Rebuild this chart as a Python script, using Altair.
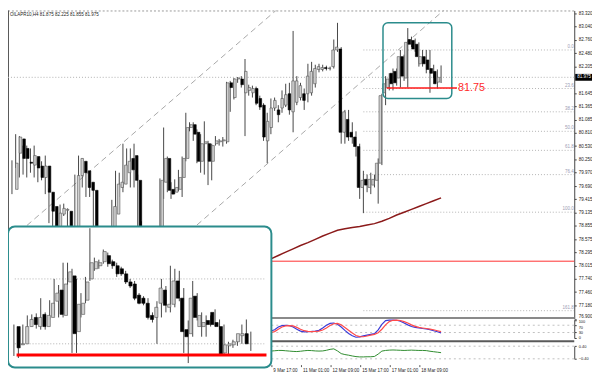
import altair as alt
import pandas as pd

# ---------------- main H4 candles (index 0 = leftmost bar) ----------------
opens = [79.62, 80.38, 80.68, 80.48, 80.19, 80.13, 80.31, 80.11, 79.87, 80.11,
         79.56, 79.26, 78.75, 79.10, 79.18, 79.16, 78.79, 78.65, 79.91, 80.21,
         80.01, 79.77, 79.60, 78.71, 78.79, 78.59, 78.71, 78.55, 79.10, 79.66,
         79.73, 79.97, 80.27, 80.33, 79.81, 78.79, 78.45, 78.59, 78.35, 78.51,
         78.51, 79.77, 80.27, 79.62, 79.56, 79.62, 79.87, 80.27, 80.92, 80.98,
         80.82, 80.21, 80.58, 80.58, 80.21, 80.58, 80.62, 80.64, 80.62, 81.86,
         81.55, 81.94, 81.94, 81.65, 81.70, 81.65, 81.74, 81.53, 81.39, 80.64,
         80.92, 81.33, 81.29, 81.33, 81.39, 81.63, 81.25, 81.45, 81.55, 81.63,
         81.63, 81.65, 81.84, 82.14, 82.14, 82.18, 82.16, 82.20, 82.55, 82.57,
         80.82, 81.09, 80.82, 80.72, 80.52, 79.66, 79.83, 79.66, 79.71, 79.81,
         80.17, 81.65, 81.76, 82.06, 82.10, 81.96, 82.41, 81.96, 82.77, 82.75,
         82.67, 82.26, 82.41, 82.34, 82.16, 82.10, 81.875]
highs = [80.23, 80.78, 80.74, 80.54, 80.54, 80.48, 80.54, 80.27, 80.21, 80.33,
         79.64, 79.36, 79.20, 79.30, 79.32, 79.22, 78.87, 79.93, 80.33, 80.27,
         80.17, 79.81, 79.66, 78.81, 78.81, 78.79, 78.77, 79.40, 80.01, 79.97,
         80.58, 80.48, 80.48, 80.58, 79.93, 78.95, 78.63, 78.67, 78.63, 78.71,
         79.85, 80.92, 80.31, 79.77, 79.83, 80.03, 80.31, 81.23, 81.03, 81.03,
         80.88, 80.78, 81.05, 80.64, 80.58, 80.74, 80.68, 80.72, 81.88, 81.90,
         81.96, 81.98, 82.00, 82.36, 81.82, 81.80, 81.78, 81.59, 81.43, 81.23,
         81.53, 81.55, 81.39, 81.70, 81.84, 81.86, 82.95, 82.00, 81.86, 81.74,
         82.26, 82.30, 82.24, 82.26, 82.24, 82.22, 82.20, 82.77, 83.12, 82.61,
         81.29, 81.29, 81.03, 80.84, 80.58, 80.01, 79.93, 79.97, 79.93, 80.27,
         81.63, 82.00, 82.06, 82.16, 82.16, 82.55, 82.45, 83.01, 82.83, 82.79,
         82.71, 82.55, 82.55, 82.55, 82.24, 82.14, 82.225]
lows = [79.52, 80.07, 79.87, 79.93, 79.87, 79.97, 79.87, 79.77, 79.81, 79.52,
        78.91, 78.71, 78.65, 78.91, 79.06, 78.65, 78.55, 78.59, 79.77, 79.66,
        79.46, 79.46, 78.65, 78.55, 78.45, 78.51, 78.39, 78.45, 78.99, 79.46,
        79.56, 79.81, 79.66, 79.66, 78.71, 78.45, 78.35, 78.24, 78.22, 78.39,
        78.43, 79.42, 79.56, 79.42, 79.52, 79.58, 79.46, 80.21, 80.84, 80.64,
        80.17, 79.97, 79.93, 79.71, 79.81, 80.54, 80.54, 80.52, 80.58, 81.25,
        81.51, 81.86, 81.76, 80.74, 81.59, 81.55, 81.39, 81.29, 80.64, 80.17,
        80.78, 81.27, 81.03, 81.23, 81.35, 81.19, 80.82, 81.39, 81.49, 81.29,
        81.45, 81.59, 81.76, 82.08, 82.10, 82.12, 82.12, 82.16, 82.51, 80.58,
        80.58, 80.64, 80.58, 80.31, 79.42, 79.12, 79.56, 79.52, 79.66, 79.32,
        80.13, 81.39, 81.70, 81.70, 81.80, 81.76, 81.90, 81.76, 82.61, 82.51,
        82.20, 82.20, 82.06, 81.65, 81.96, 81.74, 81.855]
closes = [80.17, 80.72, 80.27, 80.27, 80.17, 80.33, 80.07, 79.87, 80.11, 79.56,
          79.16, 78.85, 79.12, 79.22, 79.20, 78.79, 78.65, 79.91, 80.27, 79.97,
          79.66, 79.60, 78.75, 78.79, 78.59, 78.71, 78.51, 79.26, 79.73, 79.77,
          80.13, 80.21, 80.03, 79.81, 78.79, 78.55, 78.59, 78.35, 78.51, 78.55,
          79.81, 80.27, 79.60, 79.52, 79.66, 79.87, 80.27, 80.92, 80.98, 80.78,
          80.21, 80.58, 80.62, 80.21, 80.54, 80.64, 80.64, 80.66, 81.86, 81.76,
          81.94, 81.96, 81.82, 82.10, 81.76, 81.74, 81.43, 81.35, 80.72, 81.05,
          81.33, 81.49, 81.19, 81.53, 81.61, 81.29, 81.90, 81.90, 81.80, 81.49,
          82.00, 82.10, 82.16, 82.20, 82.18, 82.16, 82.17, 82.55, 82.61, 80.82,
          81.25, 80.72, 80.72, 80.52, 79.66, 79.81, 79.71, 79.83, 79.83, 80.17,
          81.59, 81.84, 81.94, 81.84, 81.86, 82.41, 82.00, 82.71, 82.67, 82.57,
          82.41, 82.41, 82.26, 82.14, 82.06, 81.84, 81.975]

# ---------------- indicators (from bar 70 to the last bar) ----------------
ind_start = 70
stoch_main = [38, 45, 60, 68, 70, 68, 60, 48, 38, 34, 35, 36, 38, 42, 55, 70, 80, 82, 75, 60,
              42, 25, 12, 4, 6, 12, 16, 20, 24, 45, 75, 95, 98, 98, 97, 92, 82, 72, 63, 58,
              55, 52, 50, 46, 40, 34, 28]
stoch_signal = [30, 35, 48, 60, 66, 68, 66, 58, 48, 40, 36, 35, 36, 38, 44, 55, 68, 78, 80, 72,
                58, 42, 27, 14, 8, 7, 11, 16, 20, 29, 48, 72, 90, 97, 98, 96, 90, 82, 72, 64,
                58, 55, 52, 49, 45, 40, 35]
osc_values = [0.09, 0.11, 0.13, 0.13, 0.11, 0.09, 0.07, 0.06, 0.08, 0.11,
              0.13, 0.12, 0.10, 0.09, 0.10, 0.14, 0.20, 0.23, 0.10, -0.07,
              -0.13, -0.17, -0.22, -0.26, -0.28, -0.28, -0.27, -0.27, -0.25, -0.10,
              0.09, 0.13, 0.15, 0.16, 0.15, 0.14, 0.13, 0.14, 0.15, 0.14,
              0.13, 0.13, 0.12, 0.08, 0.05, 0.02, -0.01]
ma_index = list(range(70, 117, 2))
ma_values = [78.16, 78.23, 78.30, 78.37, 78.44, 78.50, 78.57, 78.64, 78.70, 78.76,
             78.79, 78.82, 78.84, 78.87, 78.90, 78.95, 79.01, 79.08, 79.14, 79.20,
             79.26, 79.32, 79.38, 79.44]

# ---------------- drawn objects ----------------
fib_prices = [82.55, 81.74, 81.25, 80.84, 80.44, 79.93, 79.14, 77.07]
fib_labels = ["0.0", "23.6", "38.2", "50.0", "61.8", "76.4", "100.0", "161.8"]
fib_start = 95
chan_upper_k = [0, 73]
chan_upper_p = [78.59, 83.49]
chan_lower_k = [50, 118]
chan_lower_p = [78.87, 83.47]
support_price = 78.11
bid_price = 81.975
zone_price = 81.75
zone_k = [101.3, 120.3]
box_k = [100.3, 118.9]
box_p = [83.12, 81.53]
header = "OILAPR10,H4  81.875 82.225 81.855 81.975"

price_ticks = [83.320, 83.040, 82.760, 82.480, 82.205, 81.645, 81.365, 81.085, 80.810,
               80.530, 80.250, 79.970, 79.690, 79.415, 79.135, 78.855, 78.575, 78.295,
               78.015, 77.740, 77.460, 77.180, 76.900]
stoch_ticks = [0, 30, 70, 100]
osc_ticks = [-0.4, 0.4]
time_idx = [70, 78, 86, 94, 102, 110]
time_txt = ["9 Mar 17:00", "11 Mar 01:00", "12 Mar 09:00", "15 Mar 17:00",
            "17 Mar 01:00", "18 Mar 09:00"]

# ---------------- inset (finer bars of the boxed area) ----------------
inset_open = [82.03, 81.85, 81.86, 82.03, 82.12, 82.03, 82.15, 82.03, 82.12, 82.28,
              82.39, 82.14, 82.47, 82.53, 81.98, 82.15, 82.29, 82.50, 82.60, 82.63,
              82.67, 82.73, 82.67, 82.63, 82.60, 82.55, 82.47, 82.45, 82.34, 82.31,
              82.26, 82.14, 82.12, 82.26, 82.39, 82.22, 82.25, 82.48, 82.31, 82.00,
              81.96, 82.33, 82.03, 82.03, 82.09, 82.17, 82.07, 82.03, 81.77, 81.84,
              81.85, 81.88, 81.94, 81.96]
inset_high = [82.05, 81.88, 82.05, 82.14, 82.15, 82.16, 82.31, 82.17, 82.29, 82.50,
              82.44, 82.66, 82.66, 82.60, 82.50, 82.36, 82.52, 83.00, 82.71, 82.69,
              82.79, 82.76, 82.69, 82.66, 82.62, 82.58, 82.50, 82.48, 82.36, 82.33,
              82.31, 82.17, 82.28, 82.50, 82.43, 82.63, 82.60, 82.58, 82.41, 82.09,
              82.48, 82.36, 82.17, 82.14, 82.14, 82.20, 82.10, 82.05, 81.88, 81.90,
              81.93, 82.05, 82.10, 81.98]
inset_low = [81.74, 81.72, 81.85, 81.98, 82.03, 82.01, 82.00, 82.00, 82.10, 82.14,
             82.12, 82.12, 82.44, 81.77, 81.77, 82.12, 82.26, 82.48, 82.58, 82.60,
             82.65, 82.62, 82.60, 82.52, 82.53, 82.45, 82.41, 82.29, 82.25, 82.24,
             82.10, 82.07, 81.86, 82.12, 82.17, 82.17, 82.22, 82.28, 81.77, 81.67,
             81.93, 82.09, 81.93, 81.93, 82.03, 82.03, 82.00, 81.74, 81.74, 81.82,
             81.84, 81.86, 81.93, 81.79]
inset_close = [81.82, 81.86, 82.03, 82.10, 82.05, 82.12, 82.03, 82.14, 82.26, 82.36,
               82.15, 82.45, 82.57, 81.96, 82.25, 82.26, 82.47, 82.66, 82.67, 82.66,
               82.77, 82.65, 82.63, 82.55, 82.55, 82.47, 82.43, 82.31, 82.26, 82.26,
               82.12, 82.10, 82.22, 82.41, 82.24, 82.25, 82.48, 82.31, 81.98, 81.93,
               82.31, 82.12, 82.14, 82.07, 82.05, 82.05, 82.03, 81.76, 81.85, 81.86,
               81.88, 81.96, 81.96, 81.86]
inset_dotted = [82.50, 81.86]
inset_span = [0.2, 56.0]
inset_red_span = [0.6, 56.5]
inset_red_price = 81.75

# ---------------- layout ----------------
W, H = 574, 359
FONT = "Liberation Sans"
TEAL = "#2b8c8c"


def xs():
    return alt.Scale(domain=[-1.07, 152.0], range=[0, W], nice=False, zero=False)


def ys():
    return alt.Scale(domain=[76.90, 83.38], range=[312.5, 0], nice=False, zero=False)


def ys_stoch():
    return alt.Scale(domain=[0, 100], range=[332.0, 313.5], nice=False, zero=False)


def ys_osc():
    return alt.Scale(domain=[-0.4, 0.4], range=[353.1, 340.3], nice=False, zero=False)


def xs_in():
    return alt.Scale(domain=[-1.32, 57.6], range=[0, 267], nice=False, zero=False)


def ys_in():
    return alt.Scale(domain=[81.60, 83.05], range=[364.6, 215.6], nice=False, zero=False)


def right_axis(values, fmt, baseline, size=4.6):
    return alt.Axis(orient="right", values=values, format=fmt, labelFontSize=size,
                    labelFont=FONT, labelColor="#222", tickSize=2, tickColor="#444",
                    domainColor="#444", grid=False, title=None, labelPadding=2,
                    labelOverlap=False, labelFlush=False, labelBaseline=baseline)


dummy = pd.DataFrame({"v": [0]})

n = len(opens)
bars = pd.DataFrame({"k": list(range(n)), "open": opens, "high": highs,
                     "low": lows, "close": closes})
bars["dir"] = ["up" if c >= o else "down" for o, c in zip(opens, closes)]

m = len(stoch_main)
ind_k = list(range(ind_start, ind_start + m))
stoch = pd.DataFrame({
    "k": ind_k * 2,
    "v": stoch_main + stoch_signal,
    "s": ["main"] * m + ["signal"] * m,
})
osc = pd.DataFrame({"k": ind_k, "v": osc_values})
ma = pd.DataFrame({"k": ma_index, "v": ma_values})
fib = pd.DataFrame({"p": fib_prices, "lab": fib_labels,
                    "k0": [fib_start] * len(fib_prices), "k1": [151.9] * len(fib_prices)})
chan = pd.DataFrame({"k": chan_upper_k + chan_lower_k, "p": chan_upper_p + chan_lower_p,
                     "line": ["upper", "upper", "lower", "lower"]})
ins = pd.DataFrame({"i": list(range(len(inset_open))), "open": inset_open, "high": inset_high,
                    "low": inset_low, "close": inset_close})
ins["dir"] = ["up" if c >= o else "down" for o, c in zip(inset_open, inset_close)]

label_expr = " : ".join(f"datum.value == {i} ? '{t}'" for i, t in zip(time_idx, time_txt)) + " : ''"

x_axis = alt.Axis(values=time_idx, labelExpr=label_expr, labelAlign="left", labelOffset=2,
                  labelFontSize=4.6, labelFont=FONT, labelColor="#222", tickSize=2,
                  tickColor="#555", domain=False, grid=False, title=None, labelPadding=1,
                  labelFlush=False, labelOverlap=False)
y_axis = right_axis(price_ticks, ".3f",
                    {"condition": {"test": "datum.value < 77", "value": "bottom"},
                     "value": "middle"})
stoch_axis = right_axis(stoch_ticks, "d",
                        {"condition": {"test": "datum.value >= 70", "value": "top"},
                         "value": "middle"}, size=4)
osc_axis = right_axis(osc_ticks, ".2f", "middle", size=4)

body_fill = alt.Scale(domain=["up", "down"], range=["#d0d0d0", "#000000"])
body_stroke = alt.Scale(domain=["up", "down"], range=["#505050", "#000000"])

layers = []

# frame
layers.append(alt.Chart(dummy).mark_rule(color="#9a9a9a", strokeDash=[2, 2]).encode(
    y=alt.value(0.5)))
layers.append(alt.Chart(dummy).mark_rule(color="#555555").encode(
    x=alt.value(0.5), y=alt.value(0), y2=alt.value(H)))

# current price dotted line
layers.append(alt.Chart(pd.DataFrame({"p": [bid_price]})).mark_rule(
    color="#b0b0b0", strokeDash=[1, 2]).encode(
    y=alt.Y("p:Q", scale=ys(), axis=None)))

# fibonacci levels
layers.append(alt.Chart(fib).mark_rule(color="#b3b3b3", strokeDash=[1, 2]).encode(
    x=alt.X("k0:Q", scale=xs(), axis=None), x2="k1:Q",
    y=alt.Y("p:Q", scale=ys(), axis=None)))
layers.append(alt.Chart(fib).mark_text(align="right", baseline="bottom", dy=-1,
                                      fontSize=4.6, font=FONT, color="#9c9cb4").encode(
    x=alt.X("k1:Q", scale=xs(), axis=None),
    y=alt.Y("p:Q", scale=ys(), axis=None), text="lab:N"))

# support red line
layers.append(alt.Chart(pd.DataFrame({"p": [support_price]})).mark_rule(
    color="#ff3030", strokeWidth=1).encode(y=alt.Y("p:Q", scale=ys(), axis=None)))

# channel lines
layers.append(alt.Chart(chan).mark_line(color="#a8a8a8", strokeDash=[6, 4], strokeWidth=1,
                                        clip=True).encode(
    x=alt.X("k:Q", scale=xs(), axis=None),
    y=alt.Y("p:Q", scale=ys(), axis=None), detail="line:N"))

# moving average
layers.append(alt.Chart(ma).mark_line(color="#8b1a1a", strokeWidth=1.5).encode(
    x=alt.X("k:Q", scale=xs(), axis=None),
    y=alt.Y("v:Q", scale=ys(), axis=None)))

# candles
layers.append(alt.Chart(bars).mark_rule(color="#454545", strokeWidth=1).encode(
    x=alt.X("k:Q", scale=xs(), axis=x_axis),
    y=alt.Y("low:Q", scale=ys(), axis=y_axis), y2="high:Q"))
layers.append(alt.Chart(bars).mark_bar(size=2.6, strokeWidth=0.6).encode(
    x=alt.X("k:Q", scale=xs(), axis=None),
    y=alt.Y("open:Q", scale=ys(), axis=None), y2="close:Q",
    fill=alt.Fill("dir:N", scale=body_fill, legend=None),
    stroke=alt.Stroke("dir:N", scale=body_stroke, legend=None)))

# boxed zone and 81.75 level
layers.append(alt.Chart(pd.DataFrame({"k0": [box_k[0]], "k1": [box_k[1]],
                                      "p0": [box_p[0]], "p1": [box_p[1]]})).mark_rect(
    fill="white", fillOpacity=0, stroke=TEAL, strokeWidth=1.5, cornerRadius=5).encode(
    x=alt.X("k0:Q", scale=xs(), axis=None), x2="k1:Q",
    y=alt.Y("p0:Q", scale=ys(), axis=None), y2="p1:Q"))
zone = pd.DataFrame({"k0": [zone_k[0]], "k1": [zone_k[1]], "p": [zone_price],
                     "t": [f"{zone_price:.2f}"]})
layers.append(alt.Chart(zone).mark_rule(color="#ff1a1a", strokeWidth=1.5).encode(
    x=alt.X("k0:Q", scale=xs(), axis=None), x2="k1:Q",
    y=alt.Y("p:Q", scale=ys(), axis=None)))
layers.append(alt.Chart(zone).mark_text(align="left", baseline="middle", dx=1, fontSize=11,
                                       font=FONT, color="#ff2a2a").encode(
    x=alt.X("k1:Q", scale=xs(), axis=None),
    y=alt.Y("p:Q", scale=ys(), axis=None), text="t:N"))

# header
layers.append(alt.Chart(dummy).mark_text(align="left", baseline="middle", fontSize=4.6,
                                        font=FONT, color="#222").encode(
    x=alt.value(2), y=alt.value(5), text=alt.value(header)))

# current price tag on the axis
tag = pd.DataFrame({"p": [bid_price], "t": [f"{bid_price:.3f}"]})
layers.append(alt.Chart(tag).transform_calculate(
    top="datum.p + 0.072", bot="datum.p - 0.072").mark_rect(color="#000000").encode(
    x=alt.value(575), x2=alt.value(594),
    y=alt.Y("top:Q", scale=ys(), axis=None), y2="bot:Q"))
layers.append(alt.Chart(tag).mark_text(align="left", baseline="middle", fontSize=4.6,
                                      font=FONT, color="white").encode(
    x=alt.value(577), y=alt.Y("p:Q", scale=ys(), axis=None), text="t:N"))

# pane separators
layers.append(alt.Chart(dummy).mark_rule(color="#8a8a8a", strokeWidth=2).encode(
    y=alt.value(311.8)))
layers.append(alt.Chart(dummy).mark_rule(color="#5a5a5a", strokeWidth=2).encode(
    y=alt.value(335.2)))

# stochastic
layers.append(alt.Chart(pd.DataFrame({"v": [30, 70]})).mark_rule(
    color="#c0c0c0", strokeDash=[2, 3]).encode(
    y=alt.Y("v:Q", scale=ys_stoch(), axis=None)))
layers.append(alt.Chart(stoch).mark_line(strokeWidth=1.2).encode(
    x=alt.X("k:Q", scale=xs(), axis=None),
    y=alt.Y("v:Q", scale=ys_stoch(), axis=stoch_axis),
    color=alt.Color("s:N", scale=alt.Scale(domain=["main", "signal"],
                                           range=["#3a3ad8", "#ff4a4a"]), legend=None)))

# second oscillator
layers.append(alt.Chart(pd.DataFrame({"v": [-0.4, 0.4]})).mark_rule(
    color="#c0c0c0", strokeDash=[2, 3]).encode(
    y=alt.Y("v:Q", scale=ys_osc(), axis=None)))
layers.append(alt.Chart(osc).mark_line(color="#2e8b2e", strokeWidth=1).encode(
    x=alt.X("k:Q", scale=xs(), axis=None),
    y=alt.Y("v:Q", scale=ys_osc(), axis=osc_axis)))

# inset
layers.append(alt.Chart(dummy).mark_rect(fill="white", stroke=TEAL, strokeWidth=2,
                                        cornerRadius=7).encode(
    x=alt.value(0), x2=alt.value(267), y=alt.value(219), y2=alt.value(362)))
layers.append(alt.Chart(pd.DataFrame({"p": inset_dotted, "i0": [inset_span[0]] * 2,
                                      "i1": [inset_span[1]] * 2})).mark_rule(
    color="#b0b0b0", strokeDash=[1, 2]).encode(
    x=alt.X("i0:Q", scale=xs_in(), axis=None), x2="i1:Q",
    y=alt.Y("p:Q", scale=ys_in(), axis=None)))
layers.append(alt.Chart(ins).mark_rule(color="#454545", strokeWidth=1).encode(
    x=alt.X("i:Q", scale=xs_in(), axis=None),
    y=alt.Y("low:Q", scale=ys_in(), axis=None), y2="high:Q"))
layers.append(alt.Chart(ins).mark_bar(size=3.2, strokeWidth=0.6).encode(
    x=alt.X("i:Q", scale=xs_in(), axis=None),
    y=alt.Y("open:Q", scale=ys_in(), axis=None), y2="close:Q",
    fill=alt.Fill("dir:N", scale=body_fill, legend=None),
    stroke=alt.Stroke("dir:N", scale=body_stroke, legend=None)))
layers.append(alt.Chart(pd.DataFrame({"p": [inset_red_price], "i0": [inset_red_span[0]],
                                      "i1": [inset_red_span[1]]})).mark_rule(
    color="#ff0000", strokeWidth=3).encode(
    x=alt.X("i0:Q", scale=xs_in(), axis=None), x2="i1:Q",
    y=alt.Y("p:Q", scale=ys_in(), axis=None)))

chart = alt.layer(*layers).resolve_scale(
    x="independent", y="independent", fill="shared", stroke="shared"
).properties(
    width=W, height=H,
    autosize=alt.AutoSizeParams(type="none"),
    padding={"left": 0, "top": 0, "right": 18, "bottom": 9},
).configure_view(stroke=None)

chart.save("out.html", embed_options={"renderer": "svg", "actions": False})
